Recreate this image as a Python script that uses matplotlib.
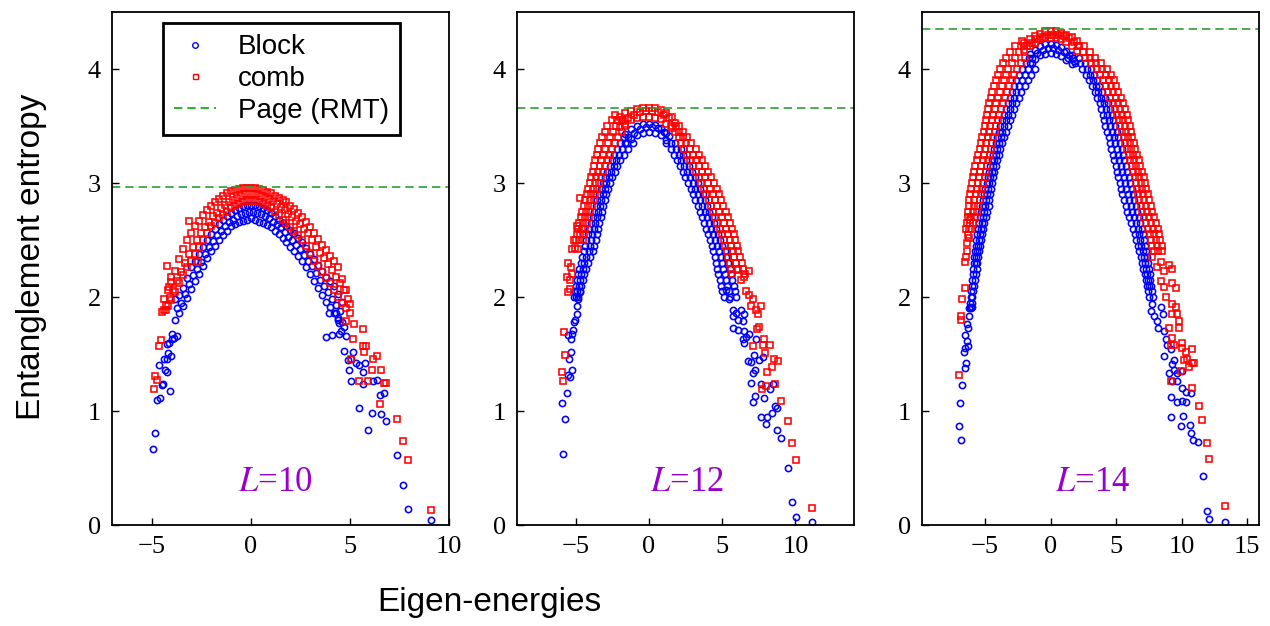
import numpy as np
import matplotlib.pyplot as plt
from matplotlib.lines import Line2D

plt.rcParams['mathtext.fontset'] = 'stix'

# chain lengths and Page (random matrix) values
system_sizes = [10, 12, 14]
page_entropy = [2.966, 3.659, 4.352]

# ---------------- L = 10 ----------------
block_10 = [
    (-4.92,0.67),(-4.83,0.81),(-4.71,1.10),(-4.60,1.11),(-4.46,1.23),(-4.41,1.24),(-4.07,1.18),
    (-4.63,1.40),(-4.31,1.36),(-4.24,1.34),(-4.36,1.46),(-4.24,1.46),(-4.18,1.51),(-4.04,1.48),
    (-4.21,1.59),(-4.12,1.60),(-3.99,1.63),(-3.96,1.68),(-3.70,1.66),(-3.87,1.64),
    (-3.8,1.98),(-3.7,1.90),(-3.8,1.80),(-3.6,2.02),(-3.5,1.95),(-3.6,1.86),
    (-3.4,2.08),(-3.3,2.03),(-3.4,1.92),(-3.2,2.17),(-3.1,2.11),(-3.2,1.99),
    (-3.0,2.26),(-2.9,2.19),(-3.0,2.07),(-2.8,2.32),(-2.7,2.25),(-2.8,2.14),
    (-2.6,2.38),(-2.5,2.31),(-2.6,2.20),(-2.4,2.44),(-2.3,2.38),(-2.4,2.27),
    (-2.2,2.50),(-2.1,2.44),(-2.2,2.34),(-2.0,2.55),(-1.9,2.49),(-2.0,2.40),
    (-1.8,2.60),(-1.7,2.54),(-1.8,2.45),(-1.6,2.64),(-1.5,2.58),(-1.6,2.50),
    (-1.4,2.68),(-1.3,2.62),(-1.4,2.54),(-1.2,2.71),(-1.1,2.66),(-1.2,2.58),
    (-1.0,2.74),(-0.9,2.68),(-1.0,2.62),(-0.8,2.76),(-0.7,2.71),(-0.8,2.64),
    (-0.6,2.78),(-0.5,2.73),(-0.6,2.66),(-0.4,2.80),(-0.3,2.74),(-0.4,2.67),
    (-0.2,2.81),(-0.1,2.75),(-0.2,2.68),(0.0,2.81),(0.1,2.75),(0.0,2.69),
    (0.2,2.81),(0.3,2.74),(0.2,2.68),(0.4,2.80),(0.5,2.73),(0.4,2.66),
    (0.6,2.78),(0.7,2.71),(0.6,2.65),(0.8,2.76),(0.9,2.69),(0.8,2.63),
    (1.0,2.74),(1.1,2.66),(1.0,2.61),(1.2,2.71),(1.3,2.64),(1.2,2.58),
    (1.4,2.68),(1.5,2.61),(1.4,2.55),(1.6,2.65),(1.7,2.57),(1.6,2.52),
    (1.8,2.62),(1.9,2.53),(1.8,2.48),(2.0,2.59),(2.1,2.50),(2.0,2.44),
    (2.2,2.56),(2.3,2.46),(2.2,2.40),(2.4,2.52),(2.5,2.42),(2.4,2.36),
    (2.6,2.48),(2.7,2.37),(2.6,2.32),(2.8,2.43),(2.9,2.32),(2.8,2.26),
    (3.0,2.38),(3.1,2.27),(3.0,2.20),(3.2,2.33),(3.3,2.21),(3.2,2.14),
    (3.4,2.28),(3.5,2.15),(3.4,2.08),(3.6,2.23),(3.7,2.10),(3.6,2.02),
    (3.8,2.18),(3.9,2.04),(3.8,1.96),(4.0,2.14),(4.1,1.98),(4.0,1.91),
    (4.2,2.10),(4.3,1.93),(4.2,1.86),(4.4,2.03),(4.5,1.88),(4.4,1.82),
    (4.6,1.96),(4.6,1.78),
    (3.96,1.86),(4.29,1.86),(4.38,1.80),(4.46,1.77),(4.71,1.74),(4.54,1.70),
    (3.79,1.65),(4.12,1.67),(4.46,1.68),(4.80,1.66),(4.68,1.53),(4.88,1.45),(5.05,1.46),
    (5.17,1.52),(5.30,1.42),(5.47,1.40),(5.64,1.34),(5.77,1.42),(4.97,1.36),(5.05,1.26),
    (5.64,1.24),(6.14,1.26),(6.36,1.27),(6.52,1.14),(6.73,1.16),(5.44,1.03),(6.11,0.98),
    (6.57,0.97),(6.82,0.91),(5.93,0.83),(7.36,0.61),(7.69,0.35),(7.95,0.14),(9.09,0.04),
]
comb_10 = [
    (-4.88,1.19),(-4.83,1.31),(-4.71,1.27),(-4.63,1.57),(-4.55,1.62),(-4.46,1.87),
    (-4.29,1.89),(-4.12,2.09),(-4.21,2.27),(-4.04,2.18),(-3.11,2.67),(-2.66,2.31),
    (-4.4,1.98),(-4.3,1.93),(-4.4,1.89),(-4.2,2.06),(-4.1,1.99),(-4.2,1.92),
    (-4.0,2.13),(-3.9,2.06),(-4.0,1.97),(-3.8,2.23),(-3.7,2.14),(-3.8,2.04),
    (-3.6,2.33),(-3.5,2.22),(-3.6,2.12),(-3.4,2.42),(-3.3,2.30),(-3.4,2.19),
    (-3.2,2.50),(-3.1,2.38),(-3.2,2.26),(-3.0,2.56),(-2.9,2.44),(-3.0,2.32),
    (-2.8,2.62),(-2.7,2.50),(-2.8,2.38),(-2.6,2.67),(-2.5,2.56),(-2.6,2.44),
    (-2.4,2.72),(-2.3,2.61),(-2.4,2.50),(-2.2,2.76),(-2.1,2.66),(-2.2,2.56),
    (-2.0,2.80),(-1.9,2.71),(-2.0,2.62),(-1.8,2.83),(-1.7,2.74),(-1.8,2.65),
    (-1.6,2.86),(-1.5,2.78),(-1.6,2.69),(-1.4,2.89),(-1.3,2.81),(-1.4,2.72),
    (-1.2,2.91),(-1.1,2.83),(-1.2,2.75),(-1.0,2.93),(-0.9,2.85),(-1.0,2.78),
    (-0.8,2.94),(-0.7,2.87),(-0.8,2.80),(-0.6,2.95),(-0.5,2.89),(-0.6,2.82),
    (-0.4,2.96),(-0.3,2.90),(-0.4,2.83),(-0.2,2.96),(-0.1,2.90),(-0.2,2.84),
    (0.0,2.96),(0.1,2.90),(0.0,2.84),(0.2,2.96),(0.3,2.90),(0.2,2.84),
    (0.4,2.95),(0.5,2.89),(0.4,2.83),(0.6,2.94),(0.7,2.88),(0.6,2.82),
    (0.8,2.92),(0.9,2.86),(0.8,2.80),(1.0,2.91),(1.1,2.84),(1.0,2.78),
    (1.2,2.89),(1.3,2.82),(1.2,2.75),(1.4,2.87),(1.5,2.79),(1.4,2.72),
    (1.6,2.85),(1.7,2.76),(1.6,2.68),(1.8,2.83),(1.9,2.73),(1.8,2.65),
    (2.0,2.80),(2.1,2.70),(2.0,2.61),(2.2,2.77),(2.3,2.67),(2.2,2.58),
    (2.4,2.74),(2.5,2.64),(2.4,2.54),(2.6,2.70),(2.7,2.60),(2.6,2.50),
    (2.8,2.66),(2.9,2.56),(2.8,2.45),(3.0,2.61),(3.1,2.50),(3.0,2.39),
    (3.2,2.56),(3.3,2.44),(3.2,2.32),(3.4,2.51),(3.5,2.39),(3.4,2.27),
    (3.6,2.46),(3.7,2.34),(3.6,2.22),(3.8,2.41),(3.9,2.29),(3.8,2.17),
    (4.0,2.36),(4.1,2.24),(4.0,2.12),(4.2,2.32),(4.3,2.18),(4.2,2.06),
    (4.4,2.26),(4.5,2.12),(4.4,2.00),(4.6,2.16),(4.7,2.06),(4.6,1.95),
    (4.8,2.06),(4.9,1.98),(4.8,1.90),(5.0,1.94),(5.0,1.86),
    (4.80,1.79),(5.22,1.76),(5.64,1.72),(5.17,1.63),(5.64,1.57),(5.81,1.57),(5.69,1.52),
    (5.05,1.46),(6.14,1.46),(6.36,1.48),(6.11,1.36),(6.57,1.36),(5.47,1.26),(5.89,1.26),
    (6.73,1.25),(6.82,1.25),(6.52,1.06),(7.36,0.93),(7.69,0.74),(7.95,0.57),(9.09,0.13),
]

# ---------------- L = 12 ----------------
block_12 = [
    (-5.96,1.07),(-5.74,0.93),(-5.85,0.62),(-5.58,1.16),(-5.51,1.32),(-5.40,1.30),(-5.28,1.36),
    (-5.44,1.46),(-5.35,1.52),(-5.51,1.67),(-5.28,1.68),(-5.17,1.71),(-5.06,1.80),(-4.94,1.85),
    (-4.94,1.92),(-4.83,1.98),(-4.72,2.04),(-5.35,1.63),(-5.12,1.78),
    (-5.08,2.00),(-4.82,2.00),(-4.95,2.00),(-5.02,2.05),(-4.73,2.05),(-4.88,2.05),
    (-4.96,2.10),(-4.64,2.10),(-4.80,2.10),(-4.90,2.15),(-4.52,2.15),(-4.71,2.15),
    (-4.83,2.20),(-4.42,2.20),(-4.62,2.20),(-4.75,2.25),(-4.30,2.25),(-4.52,2.25),
    (-4.66,2.30),(-4.17,2.30),(-4.42,2.30),(-4.55,2.35),(-4.00,2.35),(-4.28,2.35),
    (-4.43,2.40),(-3.82,2.40),(-4.12,2.40),(-4.35,2.45),(-3.72,2.45),(-4.03,2.45),
    (-4.26,2.50),(-3.62,2.50),(-3.94,2.50),(-4.16,2.55),(-3.54,2.55),(-3.85,2.55),
    (-4.06,2.60),(-3.47,2.60),(-3.76,2.60),(-3.95,2.65),(-3.38,2.65),(-3.66,2.65),
    (-3.83,2.70),(-3.29,2.70),(-3.56,2.70),(-3.73,2.75),(-3.20,2.75),(-3.46,2.75),
    (-3.63,2.80),(-3.10,2.80),(-3.37,2.80),(-3.51,2.85),(-3.00,2.85),(-3.25,2.85),
    (-3.38,2.90),(-2.90,2.90),(-3.14,2.90),(-3.26,2.95),(-2.79,2.95),(-3.02,2.95),
    (-3.13,3.00),(-2.68,3.00),(-2.90,3.00),(-2.98,3.05),(-2.50,3.05),(-2.74,3.05),
    (-2.83,3.10),(-2.32,3.10),(-2.58,3.10),(-2.68,3.15),(-2.15,3.15),(-2.41,3.15),
    (-2.53,3.20),(-1.97,3.20),(-2.25,3.20),(-2.37,3.25),(-1.70,3.25),(-2.03,3.25),
    (-2.21,3.30),(-1.43,3.30),(-1.82,3.30),(-1.95,3.35),(-1.10,3.35),(-1.52,3.35),
    (-1.68,3.40),
    (-1.6,3.43),(-1.6,3.35),(-1.4,3.40),(-1.2,3.47),(-1.2,3.39),(-1.0,3.44),
    (-0.8,3.50),(-0.8,3.42),(-0.6,3.47),(-0.4,3.52),(-0.4,3.44),(-0.2,3.49),
    (0.0,3.52),(0.0,3.45),(0.2,3.49),(0.4,3.51),(0.4,3.44),(0.6,3.48),
    (0.8,3.48),(0.8,3.42),(1.0,3.45),(1.2,3.44),(1.2,3.38),(1.4,3.41),
    (1.75,3.35),(1.20,3.35),(1.48,3.35),(2.19,3.30),(1.53,3.30),(1.86,3.30),
    (2.36,3.25),(1.72,3.25),(2.04,3.25),(2.53,3.20),(1.92,3.20),(2.22,3.20),
    (2.73,3.15),(2.11,3.15),(2.42,3.15),(2.93,3.10),(2.30,3.10),(2.62,3.10),
    (3.13,3.05),(2.48,3.05),(2.80,3.05),(3.33,3.00),(2.66,3.00),(3.00,3.00),
    (3.50,2.95),(2.84,2.95),(3.17,2.95),(3.66,2.90),(3.02,2.90),(3.34,2.90),
    (3.82,2.85),(3.17,2.85),(3.50,2.85),(3.98,2.80),(3.32,2.80),(3.65,2.80),
    (4.13,2.75),(3.47,2.75),(3.80,2.75),(4.28,2.70),(3.62,2.70),(3.95,2.70),
    (4.43,2.65),(3.77,2.65),(4.10,2.65),(4.58,2.60),(3.92,2.60),(4.25,2.60),
    (4.72,2.55),(4.05,2.55),(4.38,2.55),(4.86,2.50),(4.17,2.50),(4.52,2.50),
    (5.02,2.45),(4.29,2.45),(4.65,2.45),(5.18,2.40),(4.40,2.40),(4.79,2.40),
    (5.29,2.35),(4.49,2.35),(4.89,2.35),(5.40,2.30),(4.57,2.30),(4.98,2.30),
    (5.50,2.25),(4.65,2.25),(5.08,2.25),(5.60,2.20),(4.72,2.20),(5.16,2.20),
    (5.69,2.15),(4.82,2.15),(5.25,2.15),(5.78,2.10),(4.92,2.10),(5.35,2.10),
    (5.86,2.05),(5.02,2.05),(5.44,2.05),(5.93,2.00),(5.12,2.00),(5.52,2.00),
    (5.26,2.06),(5.49,1.98),(5.71,1.89),(5.94,1.86),(6.05,1.80),(6.28,1.89),(6.51,1.85),
    (5.71,1.83),(6.39,1.79),
    (5.71,1.73),(6.05,1.71),(6.51,1.70),(6.62,1.65),(6.40,1.63),(6.51,1.60),(6.85,1.68),
    (7.30,1.63),(6.73,1.44),(6.96,1.43),(7.19,1.49),(7.53,1.45),(7.76,1.47),(7.07,1.33),
    (7.26,1.36),(6.96,1.25),(7.64,1.24),(8.25,1.19),(8.48,1.24),(7.07,1.08),(7.26,1.13),
    (7.87,1.11),(7.64,0.95),(7.98,0.89),(8.03,0.95),(8.39,0.98),(8.62,1.04),(8.73,1.03),
    (8.71,0.83),(9.03,0.76),(9.46,0.50),(9.75,0.20),(10.02,0.07),(11.16,0.03),
]
comb_12 = [
    (-5.96,1.34),(-5.85,1.26),(-5.74,1.49),(-5.80,1.69),(-5.51,2.04),(-5.40,2.07),(-5.40,2.15),
    (-5.56,2.18),(-5.28,2.20),(-5.51,2.30),(-5.33,2.26),(-5.22,2.42),(-5.06,2.43),(-4.83,2.42),
    (-5.10,2.50),(-4.94,2.62),(-4.72,2.87),
    (-5.00,2.50),(-4.52,2.50),(-4.76,2.50),(-4.91,2.55),(-4.43,2.55),(-4.67,2.55),
    (-4.83,2.60),(-4.34,2.60),(-4.58,2.60),(-4.74,2.65),(-4.23,2.65),(-4.48,2.65),
    (-4.64,2.70),(-4.12,2.70),(-4.38,2.70),(-4.54,2.75),(-4.01,2.75),(-4.27,2.75),
    (-4.43,2.80),(-3.90,2.80),(-4.16,2.80),(-4.33,2.85),(-3.78,2.85),(-4.05,2.85),
    (-4.23,2.90),(-3.67,2.90),(-3.95,2.90),(-4.13,2.95),(-3.53,2.95),(-3.83,2.95),
    (-4.03,3.00),(-3.39,3.00),(-3.71,3.00),(-3.93,3.05),(-3.25,3.05),(-3.59,3.05),
    (-3.83,3.10),(-3.12,3.10),(-3.48,3.10),(-3.75,3.15),(-2.97,3.15),(-3.36,3.15),
    (-3.66,3.20),(-2.82,3.20),(-3.24,3.20),(-3.56,3.25),(-2.67,3.25),(-3.11,3.25),
    (-3.46,3.30),(-2.52,3.30),(-2.99,3.30),(-3.32,3.35),(-2.32,3.35),(-2.82,3.35),
    (-3.18,3.40),(-2.12,3.40),(-2.65,3.40),(-3.00,3.45),(-1.87,3.45),(-2.43,3.45),
    (-2.83,3.50),(-1.62,3.50),(-2.22,3.50),(-2.55,3.55),(-1.85,3.55),(-2.20,3.55),
    (-2.28,3.60),
    (-2.0,3.58),(-2.0,3.49),(-1.8,3.54),(-1.6,3.61),(-1.6,3.52),(-1.4,3.57),
    (-1.2,3.63),(-1.2,3.55),(-1.0,3.60),(-0.8,3.65),(-0.8,3.57),(-0.6,3.62),
    (-0.4,3.66),(-0.4,3.58),(-0.2,3.63),(0.0,3.66),(0.0,3.58),(0.2,3.63),
    (0.4,3.66),(0.4,3.57),(0.6,3.62),(0.8,3.64),(0.8,3.56),(1.0,3.60),
    (1.2,3.61),(1.2,3.52),(1.4,3.57),(1.6,3.58),(1.6,3.48),(1.8,3.53),
    (2.08,3.50),(1.52,3.50),(1.85,3.50),(2.35,3.45),(1.78,3.45),(2.06,3.45),
    (2.63,3.40),(2.02,3.40),(2.35,3.40),(2.90,3.35),(2.20,3.35),(2.55,3.35),
    (3.18,3.30),(2.37,3.30),(2.80,3.30),(3.41,3.25),(2.60,3.25),(3.00,3.25),
    (3.63,3.20),(2.82,3.20),(3.25,3.20),(3.83,3.15),(3.02,3.15),(3.42,3.15),
    (4.03,3.10),(3.22,3.10),(3.65,3.10),(4.25,3.05),(3.40,3.05),(3.82,3.05),
    (4.46,3.00),(3.57,3.00),(4.05,3.00),(4.62,2.95),(3.75,2.95),(4.18,2.95),
    (4.78,2.90),(3.92,2.90),(4.38,2.90),(4.93,2.85),(4.07,2.85),(4.50,2.85),
    (5.08,2.80),(4.22,2.80),(4.68,2.80),(5.25,2.75),(4.37,2.75),(4.81,2.75),
    (5.43,2.70),(4.52,2.70),(5.00,2.70),(5.55,2.65),(4.68,2.65),(5.11,2.65),
    (5.68,2.60),(4.84,2.60),(5.28,2.60),(5.78,2.55),(4.97,2.55),(5.37,2.55),
    (5.88,2.50),(5.10,2.50),(5.52,2.50),(5.99,2.45),(5.21,2.45),(5.60,2.45),
    (6.10,2.40),(5.32,2.40),(5.72,2.40),(6.21,2.35),(5.41,2.35),(5.81,2.35),
    (6.33,2.30),(5.50,2.30),(5.92,2.30),(6.45,2.25),(5.58,2.25),(6.01,2.25),
    (6.58,2.20),(5.67,2.20),
    (6.05,2.24),(6.28,2.15),(6.51,2.18),(6.80,2.23),(6.62,2.05),(6.85,2.02),(7.07,1.98),
    (6.96,1.92),(7.30,1.89),(7.64,1.92),(7.41,1.85),(7.48,1.74),(7.37,1.72),(7.07,1.57),
    (7.87,1.63),(7.76,1.58),(8.25,1.58),(7.94,1.51),(8.53,1.46),(8.78,1.44),(8.39,1.39),
    (8.05,1.34),(8.62,1.24),(7.98,1.22),(7.71,1.19),(9.03,1.09),(9.48,0.91),(9.75,0.72),
    (10.02,0.57),(11.16,0.15),
]

# ---------------- L = 14 ----------------
block_14 = [
    (-7.00,0.87),(-6.79,0.75),(-6.87,1.07),(-6.72,1.23),(-6.54,1.38),(-6.44,1.42),(-6.62,1.52),
    (-6.49,1.55),(-6.31,1.57),(-6.36,1.61),(-6.49,1.67),(-6.31,1.73),(-6.23,1.83),(-6.36,1.76),
    (-6.16,1.91),(-5.98,1.91),
    (-6.18,1.90),(-6.07,1.90),(-6.14,1.95),(-6.02,1.95),(-6.10,2.00),(-5.97,2.00),
    (-6.06,2.05),(-5.90,2.05),(-6.02,2.10),(-5.84,2.10),(-5.98,2.15),(-5.78,2.15),
    (-5.93,2.20),(-5.72,2.20),(-5.88,2.25),(-5.64,2.25),
    (-5.84,2.30),(-5.57,2.30),(-5.70,2.30),(-5.80,2.35),(-5.50,2.35),(-5.65,2.35),
    (-5.76,2.40),(-5.44,2.40),(-5.60,2.40),(-5.71,2.45),(-5.37,2.45),(-5.54,2.45),
    (-5.66,2.50),(-5.30,2.50),(-5.48,2.50),(-5.60,2.55),(-5.22,2.55),(-5.41,2.55),
    (-5.53,2.60),(-5.14,2.60),(-5.33,2.60),(-5.46,2.65),(-5.04,2.65),(-5.25,2.65),
    (-5.38,2.70),(-4.94,2.70),(-5.16,2.70),(-5.30,2.75),(-4.83,2.75),(-5.07,2.75),
    (-5.22,2.80),(-4.72,2.80),(-4.97,2.80),(-5.14,2.85),(-4.66,2.85),(-4.90,2.85),
    (-5.06,2.90),(-4.59,2.90),(-4.82,2.90),(-4.97,2.95),(-4.52,2.95),(-4.74,2.95),
    (-4.88,3.00),(-4.45,3.00),(-4.66,3.00),(-4.79,3.05),(-4.38,3.05),(-4.58,3.05),
    (-4.70,3.10),(-4.30,3.10),(-4.50,3.10),(-4.59,3.15),(-4.19,3.15),(-4.39,3.15),
    (-4.48,3.20),(-4.07,3.20),(-4.28,3.20),(-4.38,3.25),(-3.95,3.25),(-4.16,3.25),
    (-4.28,3.30),(-3.82,3.30),(-4.05,3.30),(-4.17,3.35),(-3.68,3.35),(-3.92,3.35),
    (-4.06,3.40),(-3.54,3.40),(-3.80,3.40),(-3.95,3.45),(-3.41,3.45),(-3.68,3.45),
    (-3.83,3.50),(-3.27,3.50),(-3.55,3.50),(-3.70,3.55),(-3.12,3.55),(-3.41,3.55),
    (-3.56,3.60),(-2.97,3.60),(-3.26,3.60),(-3.42,3.65),(-2.80,3.65),(-3.11,3.65),
    (-3.28,3.70),(-2.62,3.70),(-2.95,3.70),(-3.12,3.75),(-2.42,3.75),(-2.77,3.75),
    (-2.96,3.80),(-2.22,3.80),(-2.60,3.80),(-2.78,3.85),(-1.98,3.85),(-2.38,3.85),
    (-2.60,3.90),(-1.74,3.90),(-2.17,3.90),(-2.39,3.95),(-1.48,3.95),(-1.93,3.95),
    (-2.18,4.00),(-1.22,4.00),(-1.70,4.00),(-1.90,4.05),(-1.45,4.05),(-1.63,4.10),
    (-1.6,4.13),(-1.6,4.05),(-1.4,4.10),(-1.2,4.17),(-1.2,4.09),(-1.0,4.14),
    (-0.8,4.20),(-0.8,4.12),(-0.6,4.17),(-0.4,4.22),(-0.4,4.13),(-0.2,4.18),
    (0.0,4.22),(0.0,4.14),(0.2,4.18),(0.4,4.21),(0.4,4.13),(0.6,4.17),
    (0.8,4.19),(0.8,4.11),(1.0,4.15),(1.2,4.16),(1.2,4.08),(1.4,4.12),
    (1.6,4.12),(1.6,4.04),(1.8,4.07),
    (2.18,4.10),(1.32,4.10),(1.75,4.10),(2.66,4.05),(1.90,4.05),(2.28,4.05),
    (3.08,4.00),(2.42,4.00),(2.75,4.00),(3.33,3.95),(2.72,3.95),(3.02,3.95),
    (3.53,3.90),(2.97,3.90),(3.25,3.90),(3.73,3.85),(3.17,3.85),(3.45,3.85),
    (3.93,3.80),(3.37,3.80),(3.65,3.80),(4.16,3.75),(3.57,3.75),(3.86,3.75),
    (4.38,3.70),(3.77,3.70),(4.08,3.70),(4.53,3.65),(3.87,3.65),(4.20,3.65),
    (4.68,3.60),(3.97,3.60),(4.32,3.60),(4.78,3.55),(4.07,3.55),(4.42,3.55),
    (4.88,3.50),(4.17,3.50),(4.52,3.50),(5.03,3.45),(4.30,3.45),(4.66,3.45),
    (5.18,3.40),(4.42,3.40),(4.80,3.40),(5.30,3.35),(4.53,3.35),(4.91,3.35),
    (5.43,3.30),(4.64,3.30),(5.03,3.30),(5.53,3.25),(4.74,3.25),(5.13,3.25),
    (5.63,3.20),(4.84,3.20),(5.24,3.20),(5.75,3.15),(4.96,3.15),(5.35,3.15),
    (5.86,3.10),(5.08,3.10),(5.47,3.10),(5.97,3.05),(5.17,3.05),(5.57,3.05),
    (6.08,3.00),(5.27,3.00),(5.68,3.00),(6.19,2.95),(5.37,2.95),(5.78,2.95),
    (6.30,2.90),(5.47,2.90),(5.88,2.90),(6.40,2.85),(5.60,2.85),(6.00,2.85),
    (6.50,2.80),(5.72,2.80),(6.11,2.80),(6.62,2.75),(5.86,2.75),(6.24,2.75),
    (6.73,2.70),(6.00,2.70),(6.36,2.70),(6.84,2.65),(6.15,2.65),(6.50,2.65),
    (6.96,2.60),(6.30,2.60),(6.63,2.60),(7.04,2.55),(6.41,2.55),(6.72,2.55),
    (7.13,2.50),(6.52,2.50),(6.82,2.50),(7.20,2.45),(6.64,2.45),(6.92,2.45),
    (7.28,2.40),(6.77,2.40),(7.02,2.40),(7.36,2.35),(6.87,2.35),(7.12,2.35),
    (7.43,2.30),(6.97,2.30),(7.20,2.30),(7.50,2.25),(7.07,2.25),(7.28,2.25),
    (7.56,2.20),(7.17,2.20),(7.36,2.20),(7.62,2.15),(7.24,2.15),(7.43,2.15),
    (7.68,2.10),(7.32,2.10),(7.50,2.10),(7.73,2.05),(7.40,2.05),(7.78,2.00),(7.47,2.00),
    (7.63,1.88),(7.89,1.83),(8.14,1.79),(7.76,1.94),(8.40,1.91),(8.60,1.85),(8.19,1.73),
    (8.65,1.70),(8.78,1.63),(8.91,1.58),(8.65,1.48),(9.16,1.54),(9.41,1.45),(9.24,1.41),
    (9.03,1.33),(9.41,1.36),(9.67,1.33),(10.05,1.35),(9.24,1.26),(9.67,1.26),(10.05,1.20),
    (10.31,1.17),(10.74,1.16),(9.16,1.12),(9.67,1.08),(10.05,1.09),(10.31,1.08),(9.16,0.95),
    (10.13,0.96),(9.97,0.87),(10.61,0.88),(10.74,0.81),(10.89,0.75),(11.27,0.73),(11.60,0.43),
    (11.91,0.12),(12.11,0.05),(13.28,0.03),
]
comb_14 = [
    (-7.00,1.32),(-6.82,1.83),(-6.82,1.80),(-6.74,1.98),(-6.56,2.08),(-6.49,2.31),(-6.44,2.35),
    (-6.36,2.47),(-6.31,2.54),(-6.16,2.68),(-6.40,2.40),(-6.25,2.52),
    (-6.43,2.60),(-6.07,2.60),(-6.25,2.60),(-6.38,2.65),(-5.92,2.65),(-6.15,2.65),
    (-6.33,2.70),(-5.77,2.70),(-6.05,2.70),(-6.28,2.75),(-5.62,2.75),(-5.95,2.75),
    (-6.24,2.80),(-5.50,2.80),(-5.87,2.80),(-6.18,2.85),(-5.41,2.85),(-5.80,2.85),
    (-6.13,2.90),(-5.32,2.90),(-5.72,2.90),(-6.07,2.95),(-5.22,2.95),(-5.64,2.95),
    (-6.00,3.00),(-5.12,3.00),(-5.56,3.00),(-5.92,3.05),(-5.03,3.05),(-5.47,3.05),
    (-5.84,3.10),(-4.94,3.10),(-5.39,3.10),(-5.74,3.15),(-4.84,3.15),(-5.29,3.15),
    (-5.63,3.20),(-4.74,3.20),(-5.18,3.20),(-5.51,3.25),(-4.65,3.25),(-5.08,3.25),
    (-5.40,3.30),(-4.57,3.30),(-4.98,3.30),(-5.30,3.35),(-4.48,3.35),(-4.89,3.35),
    (-5.20,3.40),(-4.40,3.40),(-4.80,3.40),(-5.11,3.45),(-4.27,3.45),(-4.69,3.45),
    (-5.03,3.50),(-4.14,3.50),(-4.58,3.50),(-4.94,3.55),(-4.02,3.55),(-4.48,3.55),
    (-4.86,3.60),(-3.90,3.60),(-4.38,3.60),(-4.77,3.65),(-3.76,3.65),(-4.26,3.65),
    (-4.68,3.70),(-3.62,3.70),(-4.15,3.70),(-4.56,3.75),(-3.46,3.75),(-4.01,3.75),
    (-4.43,3.80),(-3.30,3.80),(-3.86,3.80),(-4.30,3.85),(-3.13,3.85),(-3.71,3.85),
    (-4.18,3.90),(-2.97,3.90),(-3.57,3.90),(-4.02,3.95),(-2.77,3.95),(-3.40,3.95),
    (-3.86,4.00),(-2.57,4.00),(-3.21,4.00),(-3.65,4.05),(-2.27,4.05),(-2.96,4.05),
    (-3.43,4.10),(-1.97,4.10),(-2.70,4.10),(-3.08,4.15),(-2.40,4.15),
    (-2.68,4.20),(-2.05,4.20),(-2.20,4.25),
    (-2.0,4.23),(-2.0,4.17),(-1.8,4.20),(-1.6,4.26),(-1.6,4.20),(-1.4,4.23),
    (-1.2,4.29),(-1.2,4.23),(-1.0,4.26),(-0.8,4.31),(-0.8,4.26),(-0.6,4.28),
    (-0.4,4.33),(-0.4,4.27),(-0.2,4.30),(0.0,4.33),(0.0,4.27),(0.2,4.30),
    (0.4,4.33),(0.4,4.27),(0.6,4.30),(0.8,4.32),(0.8,4.26),(1.0,4.29),
    (1.2,4.30),(1.2,4.24),(1.4,4.27),(1.6,4.28),(1.6,4.20),(1.8,4.24),
    (2.0,4.25),(2.0,4.16),(2.2,4.20),
    (2.58,4.20),(2.20,4.20),(3.00,4.15),(2.45,4.15),
    (3.38,4.10),(2.62,4.10),(3.00,4.10),(3.85,4.05),(3.10,4.05),(3.48,4.05),
    (4.33,4.00),(3.57,4.00),(3.95,4.00),(4.58,3.95),(3.80,3.95),(4.19,3.95),
    (4.83,3.90),(4.02,3.90),(4.42,3.90),(5.00,3.85),(4.20,3.85),(4.60,3.85),
    (5.18,3.80),(4.37,3.80),(4.77,3.80),(5.37,3.75),(4.57,3.75),(4.97,3.75),
    (5.56,3.70),(4.77,3.70),(5.16,3.70),(5.70,3.65),(4.92,3.65),(5.31,3.65),
    (5.83,3.60),(5.07,3.60),(5.45,3.60),(5.93,3.55),(5.20,3.55),(5.56,3.55),
    (6.03,3.50),(5.32,3.50),(5.68,3.50),(6.13,3.45),(5.45,3.45),(5.79,3.45),
    (6.23,3.40),(5.57,3.40),(5.90,3.40),(6.34,3.35),(5.70,3.35),(6.02,3.35),
    (6.46,3.30),(5.82,3.30),(6.14,3.30),(6.60,3.25),(5.95,3.25),(6.28,3.25),
    (6.73,3.20),(6.07,3.20),(6.40,3.20),(6.85,3.15),(6.20,3.15),(6.53,3.15),
    (6.98,3.10),(6.32,3.10),(6.65,3.10),(7.09,3.05),(6.42,3.05),(6.76,3.05),
    (7.20,3.00),(6.52,3.00),(6.86,3.00),(7.30,2.95),(6.60,2.95),(6.95,2.95),
    (7.40,2.90),(6.67,2.90),(7.04,2.90),(7.52,2.85),(6.77,2.85),(7.15,2.85),
    (7.63,2.80),(6.87,2.80),(7.25,2.80),(7.75,2.75),(7.00,2.75),(7.38,2.75),
    (7.88,2.70),(7.12,2.70),(7.50,2.70),(8.03,2.65),(7.27,2.65),(7.65,2.65),
    (8.18,2.60),(7.42,2.60),(7.80,2.60),(8.28,2.55),(7.55,2.55),(7.92,2.55),
    (8.38,2.50),(7.67,2.50),(8.02,2.50),(8.46,2.45),(7.77,2.45),(8.12,2.45),
    (8.53,2.40),(7.87,2.40),(8.20,2.40),
    (7.76,2.35),(8.14,2.26),(8.40,2.31),(8.65,2.23),(9.03,2.28),(9.29,2.25),(8.40,2.14),
    (8.65,2.09),(9.29,2.12),(9.54,2.08),(8.78,2.00),(9.29,1.94),(9.54,1.91),(9.67,1.85),
    (9.29,1.85),(9.80,1.79),(9.80,1.73),(9.03,1.73),(9.29,1.64),(9.41,1.58),(9.16,1.58),
    (10.05,1.60),(10.05,1.55),(10.31,1.52),(10.43,1.46),(10.81,1.54),(10.81,1.42),
    (10.18,1.45),(10.56,1.39),(10.94,1.42),(9.92,1.35),(9.16,1.26),(10.76,1.20),
    (11.32,1.04),(11.58,0.92),(11.91,0.72),(12.11,0.58),(13.28,0.17),
]

block_data = [block_10, block_12, block_14]
comb_data = [comb_10, comb_12, comb_14]

x_limits = [(-7, 10), (-9, 14), (-9.8, 15.9)]
x_ticks = [[-5, 0, 5, 10], [-5, 0, 5, 10], [-5, 0, 5, 10, 15]]
label_x = [0.484, 0.504, 0.505]
axes_left = [0.0882, 0.4071, 0.7260]

blue = '#0000ff'
red = '#ff0000'
green = '#2ca02c'
purple = '#9900cc'

fig = plt.figure(figsize=(12.7, 6.26), dpi=100)

axes = []
for i, L in enumerate(system_sizes):
    ax = fig.add_axes([axes_left[i], 0.1613, 0.2654, 0.8195])
    axes.append(ax)

    bx, by = np.array(block_data[i]).T
    cx, cy = np.array(comb_data[i]).T
    ax.plot(bx, by, linestyle='none', marker='o', ms=4.5, mfc='none', mec=blue, mew=1.15)
    ax.plot(cx, cy, linestyle='none', marker='s', ms=4.0, mfc='none', mec=red, mew=1.15)
    ax.axhline(page_entropy[i], color=green, lw=1.2, ls=(0, (5, 3)))

    ax.set_xlim(*x_limits[i])
    ax.set_ylim(0, 4.5)
    ax.set_xticks(x_ticks[i])
    ax.set_yticks([0, 1, 2, 3, 4])
    ax.tick_params(direction='in', length=5, width=1, pad=8, labelsize=19,
                   labelfontfamily='Liberation Serif', top=False, right=False)
    for sp in ax.spines.values():
        sp.set_linewidth(1.3)

    ax.text(label_x[i], 0.082, r'$L$=%d' % L, transform=ax.transAxes,
            ha='center', va='center', color=purple, fontsize=25,
            fontfamily='Liberation Serif')

handles = [
    Line2D([], [], linestyle='none', marker='o', ms=4, mfc='none', mec=blue, mew=1.0),
    Line2D([], [], linestyle='none', marker='s', ms=3.6, mfc='none', mec=red, mew=1.0),
    Line2D([], [], color='#00aa00', lw=1.2, ls=(0, (5, 3))),
]
leg = axes[0].legend(handles, ['Block', 'comb', 'Page (RMT)'], loc='upper left',
                     bbox_to_anchor=(0.151, 0.978), frameon=True, fancybox=False,
                     edgecolor='black', framealpha=1,
                     prop={'family': 'Liberation Sans', 'size': 20},
                     handlelength=1.5, handletextpad=0.8, labelspacing=0.2,
                     borderpad=0.4, borderaxespad=0)
leg.get_frame().set_linewidth(2)

fig.text(0.385, 0.037, 'Eigen-energies', ha='center', va='center',
         fontsize=24, family='Liberation Sans')
fig.text(0.025, 0.589, 'Entanglement entropy', ha='center', va='center',
         rotation=90, fontsize=24, family='Liberation Sans')

fig.savefig('out.png', dpi=100)
